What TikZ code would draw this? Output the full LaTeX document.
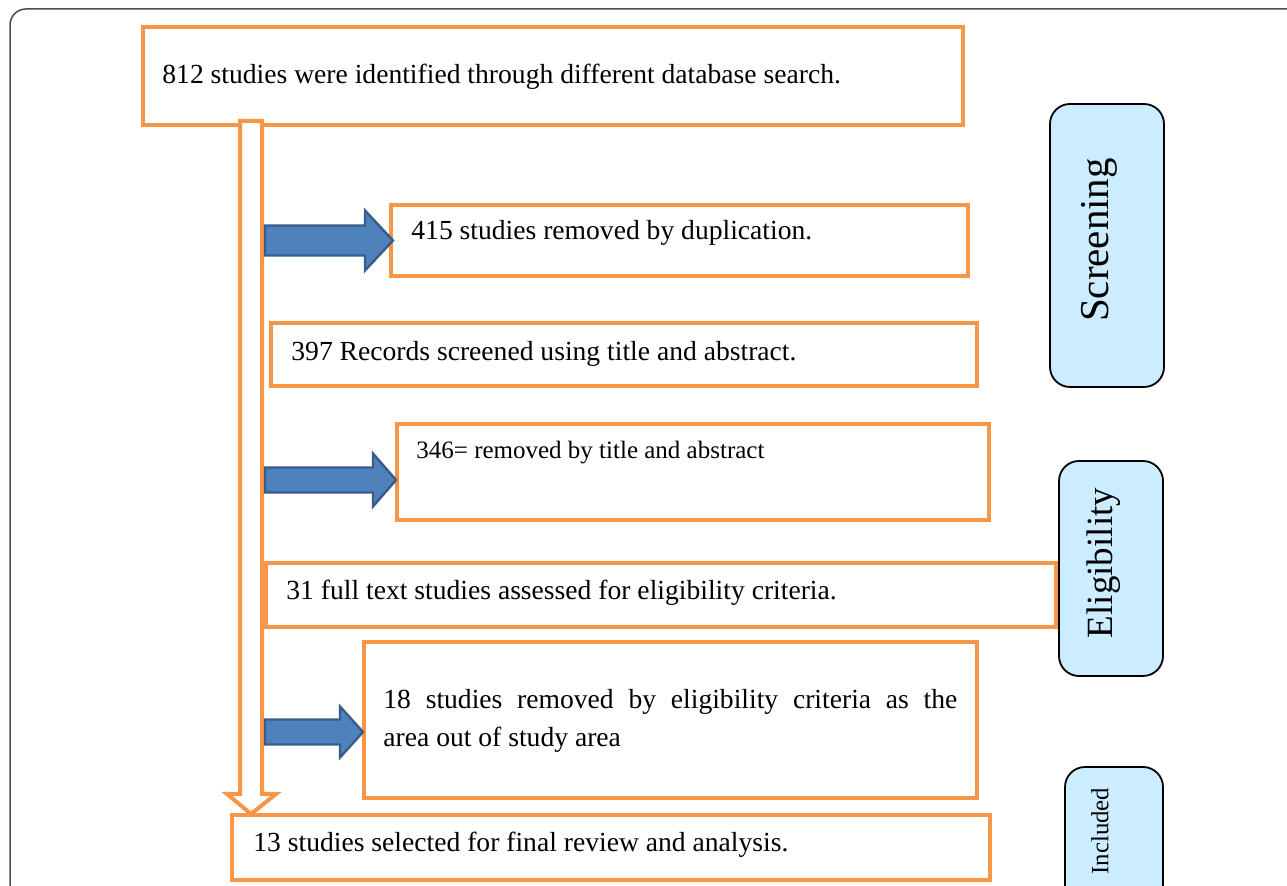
\documentclass[tikz,border=0pt]{standalone}
\usepackage{fontspec}
\setmainfont{Liberation Serif}
\usetikzlibrary{calc, fit}

\definecolor{boxorange}{HTML}{F79646}
\definecolor{arrowblue}{HTML}{4F81BD}
\definecolor{arrowedge}{HTML}{385D8A}
\definecolor{stagefill}{HTML}{CCECFF}
\definecolor{framegray}{HTML}{4D4D4D}

\tikzset{
  obox/.style={draw=boxorange, line width=2pt, inner sep=0pt, outer sep=0pt},
  otext/.style={inner sep=0pt, anchor=base west, font=\fontsize{13.8pt}{19pt}\selectfont},
  stage/.style={draw=black, line width=0.9pt, fill=stagefill, rounded corners=10pt, inner sep=0pt, outer sep=0pt},
  stagetext/.style={inner sep=0pt, rotate=90},
  bluearr/.style={fill=arrowblue, draw=arrowedge, line width=1.2pt, line join=miter},
  hollow/.style={fill=white, draw=boxorange, line width=2pt, line join=miter},
}

% block arrow: tip, length, shaft half, head half, head length
\newcommand{\blockarrow}[5]{%
  \draw[bluearr] ($#1+(-#2,-#3)$) -- ($#1+(-#5,-#3)$) -- ($#1+(-#5,-#4)$) -- #1
    -- ($#1+(-#5,#4)$) -- ($#1+(-#5,#3)$) -- ($#1+(-#2,#3)$) -- cycle;}

\begin{document}
\begin{tikzpicture}[x=0.5pt, y=-0.5pt]
  \useasboundingbox (0,0) rectangle (1287,886);
  \clip (0,0) rectangle (1287,886);
  \draw[framegray, line width=0.75pt, rounded corners=8pt] (10,9) rectangle (1330,930);

  % orange boxes
  \node[obox, fit={(143,27) (963,125)}] (ident) {};
  \node[obox, fit={(391,205) (968,276)}] (rm415) {};
  \node[obox, fit={(271,323) (977,386)}] (screened) {};
  \node[obox, fit={(397,424) (989,520)}] (rm346) {};
  \node[obox, fit={(266,563) (1056,627)}] (fulltext) {};
  \node[obox, fit={(364,642) (977,798)}] (rm18) {};
  \node[obox, fit={(232,815) (990,880)}] (sel) {};

  % texts
  \node[otext] (t812) at (162,84) {812 studies were identified through different database search.};
  \node[otext] (t415) at (411,240) {415 studies removed by duplication.};
  \node[otext] (t397) at (291,361) {397 Records screened using title and abstract.};
  \node[otext, font=\fontsize{12.5pt}{15pt}\selectfont] (t346) at (416,459) {346= removed by title and abstract};
  \node[otext] (t31) at (286,600) {31 full text studies assessed for eligibility criteria.};
  \node[otext, text width=287pt, align=justify] (t18) at (383,709)
    {18 studies removed by eligibility criteria as the\linebreak area out of study area};
  \node[otext] (t13) at (253,852) {13 studies selected for final review and analysis.};

  % main flow arrow
  \coordinate (flowtop) at ($(ident.south west)+(108,-4)$);
  \coordinate (flowtip) at ($(sel.north west)+(19,-1)$);
  \draw[hollow] ($(flowtip |- flowtop)+(-11,0)$) -- ($(flowtip |- flowtop)+(11,0)$)
    -- ($(flowtip)+(11,-20)$) -- ($(flowtip)+(25,-20)$) -- (flowtip)
    -- ($(flowtip)+(-24,-20)$) -- ($(flowtip)+(-11,-20)$) -- cycle;

  % removal arrows
  \coordinate (tip415) at ($(rm415.west)+(2,0)$);
  \coordinate (tip346) at ($(rm346.west)+(-1,8)$);
  \coordinate (tip18) at ($(rm18.west)+(-1,12)$);
  \blockarrow{(tip415)}{128}{15}{30}{28}
  \blockarrow{(tip346)}{131}{12.5}{26.5}{23}
  \blockarrow{(tip18)}{98}{12.5}{25.5}{23}

  % stage labels
  \node[stage, fit={(1050,104) (1164,387)}] (screen) {};
  \node[stagetext, font=\fontsize{20.5pt}{24pt}\selectfont] (screenlbl) at (1099,240) {Screening};
  \node[stage, fit={(1059,461) (1163,676)}] (elig) {};
  \node[stagetext, font=\fontsize{18.5pt}{22pt}\selectfont] (eliglbl) at (1104,563) {Eligibility};
  \node[stage, fit={(1065,767) (1163,930)}] (incl) {};
  \node[stagetext, font=\fontsize{12.4pt}{15pt}\selectfont] (incllbl) at (1100,831) {Included};
\end{tikzpicture}
\end{document}
